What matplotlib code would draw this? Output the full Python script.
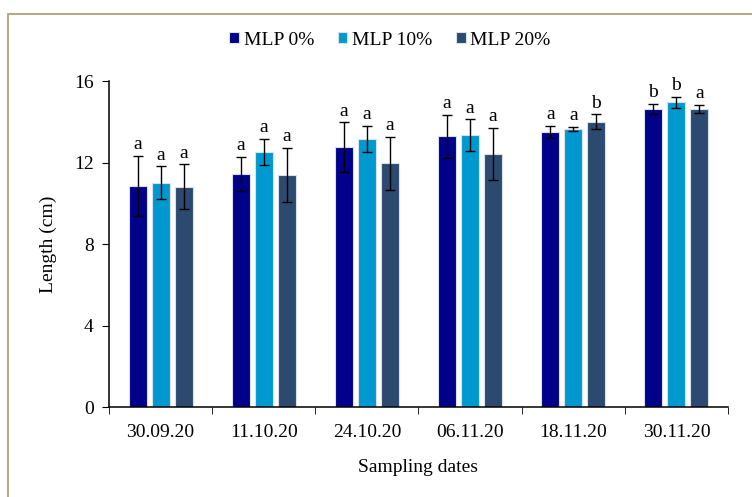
import numpy as np
import matplotlib.pyplot as plt
from matplotlib.patches import Rectangle

dates = ['30.09.20', '11.10.20', '24.10.20', '06.11.20', '18.11.20', '30.11.20']
series = ['MLP 0%', 'MLP 10%', 'MLP 20%']

mlp0 = [10.85, 11.44, 12.74, 13.28, 13.51, 14.63]
mlp10 = [11.01, 12.52, 13.17, 13.33, 13.63, 14.95]
mlp20 = [10.81, 11.39, 11.96, 12.40, 14.00, 14.61]

err0 = [1.48, 0.85, 1.23, 1.05, 0.30, 0.26]
err10 = [0.80, 0.63, 0.64, 0.79, 0.10, 0.28]
err20 = [1.10, 1.31, 1.29, 1.28, 0.36, 0.20]

let0 = ['a', 'a', 'a', 'a', 'a', 'b']
let10 = ['a', 'a', 'a', 'a', 'a', 'b']
let20 = ['a', 'a', 'a', 'a', 'b', 'a']

colors = ['#00008B', '#0099CF', '#2C4A6F']

plt.rcParams['font.family'] = 'Liberation Serif'
plt.rcParams['font.size'] = 14

fig = plt.figure(figsize=(7.52, 4.97), dpi=100)
# outer frame of the chart area
fig.patches.append(Rectangle((8 / 752, -0.1), 1.2, 1.1 - 14 / 497,
                             transform=fig.transFigure, fill=False,
                             edgecolor='#ADA37A', linewidth=1.3))

ax = fig.add_axes([109 / 752, 1 - 407 / 497, 619 / 752, 326 / 497])

x = np.arange(len(dates))
width = 0.175
step = 0.223
values = [mlp0, mlp10, mlp20]
errors = [err0, err10, err20]
letters = [let0, let10, let20]

for i in range(3):
    pos = x + (i - 1) * step
    ax.bar(pos, values[i], width, color=colors[i], edgecolor='#D8E0EA',
           linewidth=0.8, label=series[i], zorder=2)
    ax.errorbar(pos, values[i], yerr=errors[i], fmt='none', ecolor='black',
                elinewidth=1.0, capsize=3.5, capthick=1.0, zorder=3)
    for p, v, e, t in zip(pos, values[i], errors[i], letters[i]):
        ax.annotate(t, (p, v + e), xytext=(0, 2), textcoords='offset points',
                    ha='center', va='bottom', fontsize=14)

ax.set_xlim(-0.5, len(dates) - 0.5)
ax.set_ylim(0, 16)
ax.set_yticks([0, 4, 8, 12, 16])
ax.set_xticks(x)
ax.set_xticklabels(dates)
ax.set_xticks(np.arange(-0.5, len(dates)), minor=True)
ax.tick_params(axis='x', which='major', length=0, pad=12)
ax.tick_params(axis='x', which='minor', length=5, direction='out')
ax.tick_params(axis='y', length=5, direction='out', pad=6)

for s in ['top', 'right']:
    ax.spines[s].set_visible(False)
for s in ['left', 'bottom']:
    ax.spines[s].set_linewidth(1.1)

ax.set_ylabel('Length (cm)', labelpad=12)
ax.set_xlabel('Sampling dates', labelpad=13)

ax.legend(loc='upper center', bbox_to_anchor=(0.454, 1.205), ncol=3, frameon=False,
          handlelength=0.5, handleheight=0.5, handletextpad=0.25,
          columnspacing=1.2, fontsize=14)

fig.savefig('out.png', dpi=100)
